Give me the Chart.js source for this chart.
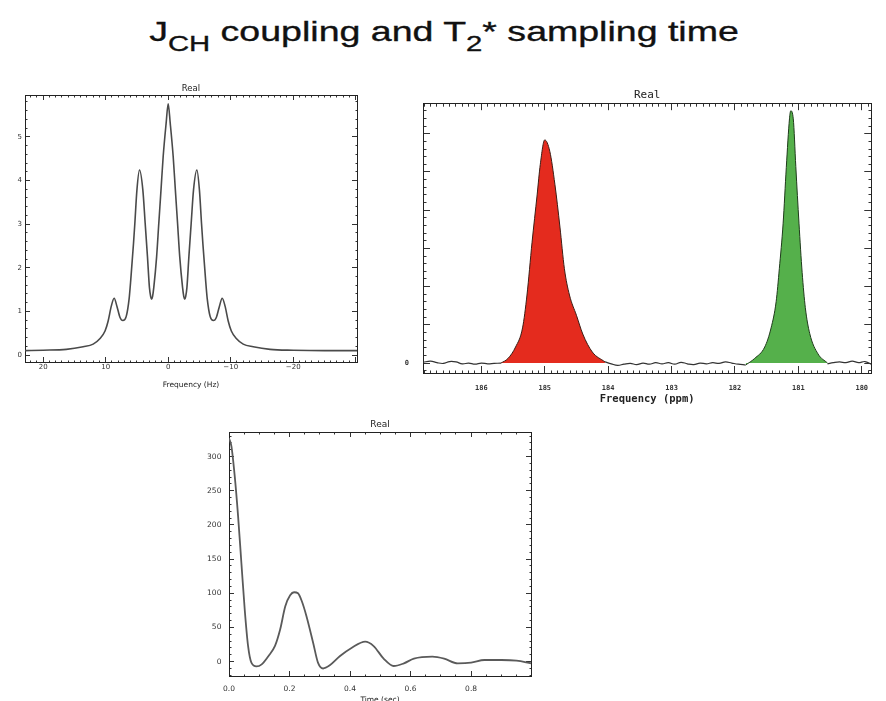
<!DOCTYPE html>
<html>
<head>
<meta charset="utf-8">
<script src="https://cdn.jsdelivr.net/npm/chart.js@4.4.1/dist/chart.umd.min.js"></script>
<style>
  body { margin: 0; width: 886px; height: 701px; overflow: hidden; background: #fff; position: relative; }
  canvas { position: absolute; }
  #title { position: absolute; left: 444px; top: 18px; white-space: nowrap; font: 28px/28px "Liberation Sans", Arial, sans-serif; color: #111; -webkit-text-stroke: 0.35px #111; transform: translateX(-50%) scaleX(1.34); }
  #title span { font-size: 0.78em; position: relative; top: 0.48em; }
</style>
</head>
<body>
<div id="title">J<span>CH</span> coupling and T<span>2</span>* sampling time</div>
<canvas id="jch" width="370" height="320" style="left:0;top:78px"></canvas>
<canvas id="ppm" width="486" height="330" style="left:400px;top:78px"></canvas>
<canvas id="fid" width="360" height="302" style="left:190px;top:410px"></canvas>
<script>
Chart.defaults.color = '#333';
Chart.defaults.font.family = 'DejaVu Sans';
Chart.defaults.animation = false;

// multiplet, real part (Hz axis runs high -> low)
const freqHz = [22.9, 20, 16.3, 13.6, 12, 10.9, 10.1, 9.6, 9.1, 8.64, 8.2, 7.7, 7.25, 6.72, 6.24, 5.97, 5.55, 5.33, 5.0, 4.59, 4.05, 3.68, 3.31, 3.0, 2.8, 2.65, 2.5, 2.3, 1.85, 1.5, 1.15, 0.8, 0.33, 0,
  -0.33, -0.8, -1.15, -1.5, -1.85, -2.3, -2.5, -2.65, -2.8, -3.0, -3.31, -3.68, -4.05, -4.59, -5.0, -5.33, -5.55, -5.97, -6.24, -6.72, -7.25, -7.7, -8.2, -8.64, -9.1, -9.6, -10.1, -10.9, -12, -13.6, -16.3, -20, -25, -30.2];
const realJ = [0.1, 0.11, 0.13, 0.19, 0.25, 0.38, 0.55, 0.78, 1.12, 1.3, 1.12, 0.86, 0.79, 0.88, 1.3, 1.75, 2.55, 3.02, 3.78, 4.24, 3.78, 3.02, 2.25, 1.55, 1.34, 1.28, 1.34, 1.55, 2.25, 3.02, 3.78, 4.55, 5.31, 5.76,
  5.31, 4.55, 3.78, 3.02, 2.25, 1.55, 1.34, 1.28, 1.34, 1.55, 2.25, 3.02, 3.78, 4.24, 3.78, 3.02, 2.55, 1.75, 1.3, 0.88, 0.79, 0.86, 1.12, 1.3, 1.12, 0.78, 0.55, 0.38, 0.25, 0.19, 0.13, 0.11, 0.1, 0.1];

// 13C spectrum: two filled peaks plus baseline noise
const ppmRed = [185.69, 185.58, 185.46, 185.35, 185.28, 185.2, 185.12, 185.07, 185.0, 184.92, 184.84, 184.76, 184.69, 184.61, 184.5, 184.4, 184.25, 184.05];
const redPeak = [0, 1.2, 4.2, 9.2, 17.8, 31.6, 44, 52, 58.4, 55.4, 46.8, 35.6, 24.7, 17.8, 12.5, 7.6, 2.9, 0.3];
const ppmGreen = [181.83, 181.69, 181.53, 181.43, 181.35, 181.3, 181.24, 181.19, 181.14, 181.12, 181.08, 181.04, 180.99, 180.94, 180.89, 180.82, 180.69, 180.54];
const greenPeak = [-0.5, 1.2, 4.2, 9.2, 16.1, 24.7, 36.6, 51.2, 63.9, 66, 63.9, 51.4, 36.6, 23.7, 14.5, 7.7, 2.4, 0];
const ppmNoise = [186.92, 186.8, 186.7, 186.6, 186.5, 186.4, 186.3, 186.2, 186.1, 186.0, 185.9, 185.8, 185.69, 185.0,
  184.05, 183.95, 183.85, 183.75, 183.65, 183.55, 183.45, 183.35, 183.25, 183.15, 183.05, 182.95, 182.85, 182.75, 182.65, 182.55, 182.45, 182.35, 182.25, 182.15, 182.05, 181.95, 181.83, 181.2,
  180.54, 180.45, 180.35, 180.25, 180.15, 180.05, 179.95, 179.85];
const noise = [0.2, 0.5, 0.1, -0.1, 0.4, 0.3, -0.2, 0.0, -0.3, 0.0, -0.2, -0.1, 0, null,
  0.3, -0.2, -0.6, -0.3, -0.1, -0.4, 0.0, -0.3, 0.1, -0.2, 0.1, -0.3, 0.2, -0.2, -0.4, 0.0, -0.2, 0.1, -0.1, 0.3, 0.0, -0.3, -0.5, null,
  -0.2, 0.1, 0.3, 0.1, 0.5, 0.1, 0.4, -0.3];

// FID
const timeSec = [0, 0.008, 0.019, 0.03, 0.041, 0.052, 0.063, 0.074, 0.091, 0.108, 0.13, 0.152, 0.169, 0.186, 0.202, 0.215, 0.228, 0.241, 0.256, 0.278, 0.294, 0.311, 0.333, 0.367, 0.406, 0.45, 0.478, 0.511, 0.544, 0.578, 0.611, 0.672, 0.711, 0.756, 0.8, 0.844, 0.9, 0.95, 0.998];
const fid = [327, 315, 271, 213, 144, 76, 23, -1.5, -7, -4, 8, 23, 47, 81, 97, 101.5, 100, 88, 66.5, 27.7, -1.5, -10, -5.4, 8.2, 20.4, 29.2, 22.8, 4.4, -6.4, -2.5, 4.4, 7.3, 4.4, -2.5, -1.5, 2.4, 2.4, 1.5, -2.4];

const xy = (xs, ys) => xs.map((x, i) => ({ x: x, y: ys[i] }));
const near = (v, m) => Math.abs(v / m - Math.round(v / m)) < 1e-6;
const minus = v => Math.abs(v) > 25 ? '' : (v < 0 ? '\u2212' + (-v) : String(v));

function axis(pos, min, max, step, major, o) {
  const L = o.tick, m = o.tick / 2;
  const start = pos === 'top' || pos === 'left';
  return {
    type: 'linear', position: pos, min: min, max: max, reverse: !!o.reverse,
    border: { display: true, color: '#222', width: 1 },
    grid: {
      drawOnChartArea: false, tickLength: -L, tickColor: '#333', tickWidth: 1,
      tickBorderDash: c => near(c.tick.value, major) ? [] : (start ? [0, L - m, m, 60] : [m, 60])
    },
    ticks: {
      display: !!o.fmt, stepSize: step, autoSkip: false, includeBounds: false, maxRotation: 0,
      padding: o.pad || 0, font: o.font, color: '#333',
      callback: v => (o.fmt && near(v, major)) ? o.fmt(v) : ''
    },
    title: o.title ? { display: true, text: o.title, font: o.titleFont, padding: o.titlePad, color: '#222' } : { display: false },
    afterFit: s => { if (s.isHorizontal()) s.height = o.size; else s.width = o.size; }
  };
}

const base = {
  responsive: false,
  layout: { padding: 0 },
  plugins: { legend: { display: false }, tooltip: { enabled: false } }
};

new Chart(document.getElementById('jch'), {
  type: 'line',
  data: { datasets: [{ data: xy(freqHz, realJ), borderColor: '#4a4a4a', borderWidth: 1.6, pointRadius: 0, cubicInterpolationMode: 'monotone', xAxisID: 'x', yAxisID: 'y' }] },
  options: Object.assign({}, base, {
    scales: {
      x: axis('bottom', -30.2, 22.9, 1, 10, { reverse: true, tick: 5, size: 36, pad: 5.8, fmt: minus, font: { size: 7 },
        title: 'Frequency (Hz)', titleFont: { size: 7.5 }, titlePad: { bottom: 8.5 } }),
      x2: axis('top', -30.2, 22.9, 1, 10, { reverse: true, tick: 5, size: 17,
        title: 'Real', titleFont: { size: 8.5 }, titlePad: { top: 6 } }),
      y: axis('left', -0.16, 5.96, 0.2, 1, { tick: 5, size: 25, pad: 8, fmt: v => String(v), font: { size: 7 } }),
      y2: axis('right', -0.16, 5.96, 0.2, 1, { tick: 5, size: 13 })
    }
  })
});

const monoBold = { family: 'DejaVu Sans Mono', weight: 'bold', size: 7 };
new Chart(document.getElementById('ppm'), {
  type: 'line',
  data: { datasets: [
    { data: xy(ppmRed, redPeak), borderColor: '#3b1c14', borderWidth: 1, backgroundColor: '#e42b1e', fill: 'origin', pointRadius: 0, cubicInterpolationMode: 'monotone' },
    { data: xy(ppmGreen, greenPeak), borderColor: '#1e3a1a', borderWidth: 1, backgroundColor: '#55b04b', fill: 'origin', pointRadius: 0, cubicInterpolationMode: 'monotone' },
    { data: xy(ppmNoise, noise), borderColor: '#333', borderWidth: 1.2, pointRadius: 0, tension: 0.4, spanGaps: false }
  ] },
  options: Object.assign({}, base, {
    scales: {
      x: axis('bottom', 179.85, 186.92, 0.1, 1, { reverse: true, tick: 7, size: 35, pad: 17.8, fmt: v => String(Math.round(v)), font: monoBold,
        title: 'Frequency (ppm)', titleFont: { family: 'DejaVu Sans Mono', weight: 'bold', size: 10.5 }, titlePad: { bottom: 2.7 } }),
      x2: axis('top', 179.85, 186.92, 0.1, 1, { reverse: true, tick: 7, size: 20,
        title: 'Real', titleFont: { family: 'DejaVu Sans Mono', size: 11 }, titlePad: { top: 5.4 } }),
      y: axis('left', -2.6, 68, 2, 10, { tick: 7, size: 23, pad: 21, fmt: v => v === 0 ? '0' : '', font: monoBold }),
      y2: axis('right', -2.6, 68, 2, 10, { tick: 7, size: 3 })
    }
  })
});

new Chart(document.getElementById('fid'), {
  type: 'line',
  data: { datasets: [{ data: xy(timeSec, fid), borderColor: '#5a5a5a', borderWidth: 1.8, pointRadius: 0, cubicInterpolationMode: 'monotone', xAxisID: 'x', yAxisID: 'y' }] },
  options: Object.assign({}, base, {
    scales: {
      x: axis('bottom', 0, 0.998, 0.05, 0.2, { tick: 5, size: 36, pad: 13.8, fmt: v => v.toFixed(1), font: { size: 7.5 },
        title: 'Time (sec)', titleFont: { size: 7.5 }, titlePad: { bottom: 7.5 } }),
      x2: axis('top', 0, 0.998, 0.05, 0.2, { tick: 5, size: 22,
        title: 'Real', titleFont: { size: 9 }, titlePad: { top: 9.6 } }),
      y: axis('left', -21, 336, 10, 50, { tick: 5, size: 39, pad: 12.6, fmt: v => String(v), font: { size: 7.5 } }),
      y2: axis('right', -21, 336, 10, 50, { tick: 5, size: 19 })
    }
  })
});
</script>
</body>
</html>
